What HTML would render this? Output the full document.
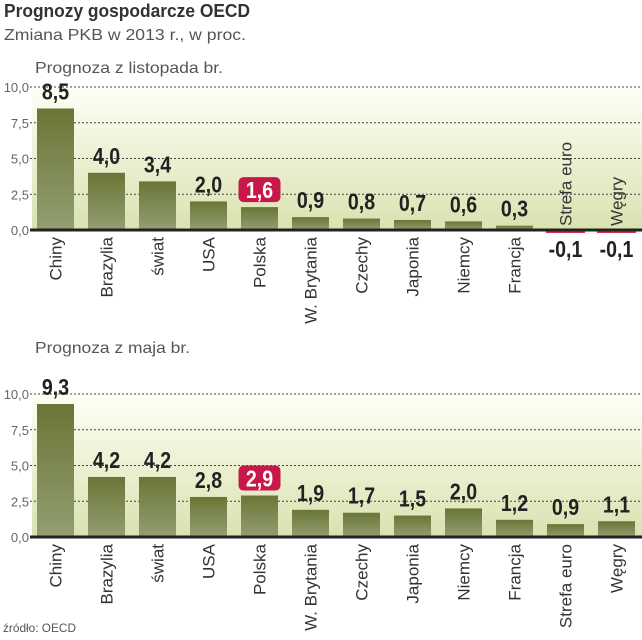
<!DOCTYPE html>
<html><head><meta charset="utf-8">
<style>
html,body{margin:0;padding:0;background:#fff;}
svg{display:block;font-family:"Liberation Sans",sans-serif;}
</style></head>
<body>
<svg id="chart" width="642" height="640" viewBox="0 0 642 640">
<defs>
<linearGradient id="bg" x1="0" y1="0" x2="0" y2="1">
<stop offset="0" stop-color="#fffff6"/><stop offset="1" stop-color="#d9e2b0"/>
</linearGradient>
<linearGradient id="bar" x1="0" y1="0" x2="0" y2="1">
<stop offset="0" stop-color="#6a7636"/><stop offset="1" stop-color="#939e72"/>
</linearGradient>
</defs>
<text x="4" y="17" font-size="18" font-weight="bold" fill="#333" textLength="246" lengthAdjust="spacingAndGlyphs">Prognozy gospodarcze OECD</text>
<text x="4" y="40" font-size="16" fill="#555" textLength="242" lengthAdjust="spacingAndGlyphs">Zmiana PKB w 2013 r., w proc.</text>
<text x="35" y="73" font-size="16" fill="#555" textLength="188" lengthAdjust="spacingAndGlyphs">Prognoza z listopada br.</text>
<text x="35" y="353" font-size="16" fill="#555" textLength="155" lengthAdjust="spacingAndGlyphs">Prognoza z maja br.</text>
<text x="3" y="632" font-size="12" fill="#555" textLength="73" lengthAdjust="spacingAndGlyphs">źródło: OECD</text>
<g id="p1"></g>
<g id="p2"></g>
</svg>
<script>
const categories = ["Chiny","Brazylia","świat","USA","Polska","W. Brytania","Czechy","Japonia","Niemcy","Francja","Strefa euro","Węgry"];
const novValues = [8.5,4.0,3.4,2.0,1.6,0.9,0.8,0.7,0.6,0.3,-0.1,-0.1];
const mayValues = [9.3,4.2,4.2,2.8,2.9,1.9,1.7,1.5,2.0,1.2,0.9,1.1];
const tickValues = [0,2.5,5,7.5,10];
const tickLabels = ["0,0","2,5","5,0","7,5","10,0"];
const highlight = "Polska";
const NS = "http://www.w3.org/2000/svg";
function mk(tag, attrs, parent){const e=document.createElementNS(NS,tag);for(const k in attrs)e.setAttribute(k,attrs[k]);parent.appendChild(e);return e;}
function fmt(v){return v.toFixed(1).replace(".",",");}
function draw(g, values, zeroY, key){
  const pxPerUnit = 14.3;
  const y = v => zeroY - v*pxPerUnit;
  const x = i => 37 + i*51;
  const bw = 37;
  const bg = mk("rect",{x:32,y:y(10),width:610,height:zeroY-y(10),fill:"url(#bg)"},g);
  
  
  tickValues.forEach((t,i)=>{
    const tl = mk("text",{x:29,y:y(t)+5,"font-size":13,fill:"#666","text-anchor":"end"},g);
    tl.textContent = tickLabels[i];
    
    
    if(t>0){
      const gl = mk("line",{x1:30,x2:642,y1:y(t),y2:y(t),stroke:"#444","stroke-width":1,"stroke-dasharray":"2,2"},g);
      
      
    }
  });
  values.forEach((v,i)=>{
    const cx = x(i)+bw/2;
    if(v>=0){
      const b = mk("rect",{x:x(i),y:y(v),width:bw,height:zeroY-y(v),fill:"url(#bar)"},g);
      
      
    } else {
      const b = mk("rect",{x:x(i)-1,y:zeroY+1,width:bw+2,height:2,fill:"#d0344f"},g);
      
      
    }
    const isH = categories[i]===highlight;
    if(isH){
      const hb = mk("rect",{x:cx-21,y:y(v)-30,width:42,height:25,rx:5,fill:"#c8184a"},g);
      
      
    }
    const vl = mk("text",{x:0,y:0,"font-size":23,"font-weight":"bold",fill:isH?"#fff":"#222","text-anchor":"middle",transform:`translate(${cx},${v>=0 ? y(v)-9 : zeroY+27}) scale(0.85,1)`},g);
    vl.textContent = fmt(v);
    
    
    let ly, anchor;
    if(v>=0){ly=zeroY+7; anchor="end";} else {ly=zeroY-4; anchor="start";}
    const cl = mk("text",{x:0,y:0,"font-size":17,fill:"#333","text-anchor":anchor,transform:`translate(${cx+6},${ly}) rotate(-90)`},g);
    cl.textContent = categories[i];
    
    
  });
  const ax = mk("line",{x1:30,x2:642,y1:zeroY,y2:zeroY,stroke:"#222","stroke-width":3},g);
  
  
}
draw(document.getElementById("p1"), novValues, 230, "nov");
draw(document.getElementById("p2"), mayValues, 537, "may");
</script>
</body></html>
